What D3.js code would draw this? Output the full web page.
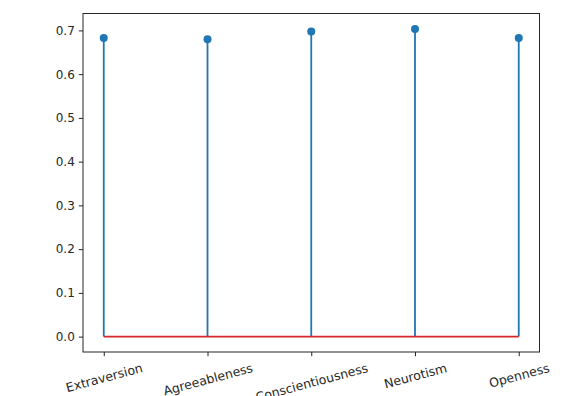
<!DOCTYPE html>
<html>
<head>
<meta charset="utf-8">
<script src="https://cdn.jsdelivr.net/npm/d3@7"></script>
<style>
  html, body { margin: 0; padding: 0; background: #fff; }
  svg { display: block; }
  text { font-family: "DejaVu Sans", sans-serif; font-size: 12px; fill: #262626; }
</style>
</head>
<body>
<svg id="chart" width="584" height="396"></svg>
<script>
// Trait names and their scores
const traits = ["Extraversion", "Agreeableness", "Conscientiousness", "Neurotism", "Openness"];
const scores = [0.6825, 0.680, 0.6975, 0.7035, 0.6825];
const yTicks = [0.0, 0.1, 0.2, 0.3, 0.4, 0.5, 0.6, 0.7];

const W = 584, H = 396;
const plot = { left: 83, right: 539.5, top: 13.5, bottom: 352 };

const svg = d3.select("#chart");

// Index-based x scale with 5% padding on each side
const n = traits.length;
const xPad = (n - 1) * 0.05;
const x = d3.scaleLinear()
  .domain([-xPad, n - 1 + xPad])
  .range([plot.left, plot.right]);

const yMax = d3.max(scores);
const yPad = yMax * 0.05;
const y = d3.scaleLinear()
  .domain([-yPad, yMax + yPad])
  .range([plot.bottom, plot.top]);

const blue = "#1f77b4";
const red = "#d62728";

// Stems
svg.append("g").selectAll("line")
  .data(scores)
  .join("line")
  .attr("x1", (d, i) => x(i)).attr("x2", (d, i) => x(i))
  .attr("y1", y(0)).attr("y2", d => y(d))
  .attr("stroke", blue).attr("stroke-width", 1.8);

// Baseline
svg.append("line")
  .attr("x1", x(0)).attr("x2", x(n - 1))
  .attr("y1", y(0)).attr("y2", y(0))
  .attr("stroke", red).attr("stroke-width", 1.8);

// Markers
svg.append("g").selectAll("circle")
  .data(scores)
  .join("circle")
  .attr("cx", (d, i) => x(i))
  .attr("cy", d => y(d))
  .attr("r", 4)
  .attr("fill", blue);

// Frame
svg.append("rect")
  .attr("x", plot.left).attr("y", plot.top)
  .attr("width", plot.right - plot.left)
  .attr("height", plot.bottom - plot.top)
  .attr("fill", "none").attr("stroke", "#262626").attr("stroke-width", 1);

// Y axis
const yAxis = d3.axisLeft(y)
  .tickValues(yTicks)
  .tickFormat(d3.format(".1f"))
  .tickSize(4.2)
  .tickPadding(4);
const gy = svg.append("g").attr("transform", `translate(${plot.left},0)`).call(yAxis);
gy.select(".domain").remove();
gy.selectAll(".tick line").attr("stroke", "#262626");
gy.selectAll(".tick text").style("font-size", "12px").attr("fill", "#262626");

// X axis: ticks with rotated labels
const xAxis = d3.axisBottom(x)
  .tickValues(d3.range(n))
  .tickFormat(i => traits[i])
  .tickSize(4.2)
  .tickPadding(0);
const gx = svg.append("g").attr("transform", `translate(0,${plot.bottom})`).call(xAxis);
gx.select(".domain").remove();
gx.selectAll(".tick line").attr("stroke", "#262626");

const angle = 15 * Math.PI / 180;
const labelTop = 4.2 + 4.2;
gx.selectAll(".tick text").each(function () {
  const t = d3.select(this);
  t.attr("y", 0).attr("dy", null)
   .attr("text-anchor", "middle")
   .attr("dominant-baseline", "central")
   .style("font-size", "12.5px")
   .attr("fill", "#262626");
  const w = this.getComputedTextLength();
  const h = 14.5;
  const bh = w * Math.sin(angle) + h * Math.cos(angle);
  const cy = labelTop + bh / 2;
  t.attr("transform", `translate(0,${cy}) rotate(-15)`);
});
</script>
</body>
</html>
